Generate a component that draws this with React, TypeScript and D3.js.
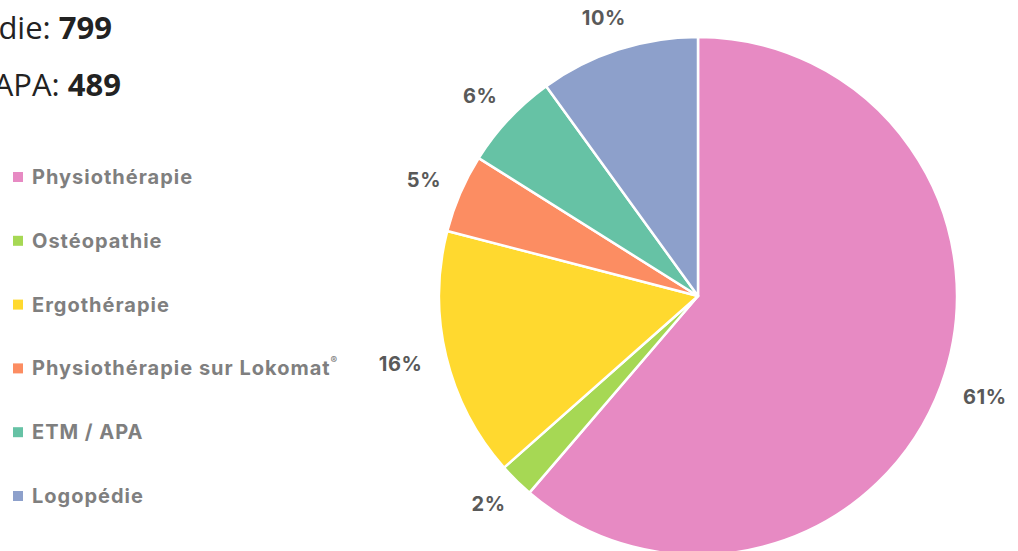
import React from "react";
import * as d3 from "d3";

const categories = [
  "Physiothérapie",
  "Ostéopathie",
  "Ergothérapie",
  "Physiothérapie sur Lokomat",
  "ETM / APA",
  "Logopédie",
];
const values = [4912, 176, 1248, 392, 489, 799];
const colors = ["#e78ac3", "#a6d854", "#ffd92f", "#fc8d62", "#66c2a5", "#8da0cb"];
const summaryLabels = ["Logopédie: ", "ETM / APA: "];
const summaryValues = ["799", "489"];

const W = 1018;
const H = 551;
const cx = 698;
const cy = 296;
const R = 259;
const labelR = 284;

export default function App() {
  const total = d3.sum(values);
  const pie = d3.pie<number>().sort(null).value((d) => d);
  const arcs = pie(values);
  const arcGen = d3.arc<d3.PieArcDatum<number>>().innerRadius(0).outerRadius(R);
  const fmt = (v: number) => `${Math.round((v / total) * 100)}%`;
  const legendY = d3.scalePoint<number>().domain(d3.range(categories.length)).range([177, 496]);

  return (
    <svg
      width={W}
      height={H}
      style={{ position: "absolute", left: 0, top: 0, background: "#fff" }}
    >
      <g fontFamily="'Open Sans', sans-serif" fontSize={31} fill="#222">
        {summaryLabels.map((l, i) => (
          <text key={i} x={i === 0 ? 112 : 121} y={39 + i * 57} textAnchor="end">
            {l}
            <tspan fontWeight="bold">{summaryValues[i]}</tspan>
          </text>
        ))}
      </g>
      <g transform={`translate(${cx},${cy})`}>
        {arcs.map((a, i) => (
          <path key={i} d={arcGen(a) || ""} fill={colors[i]} stroke="#fff" strokeWidth={2.5} strokeLinejoin="round" />
        ))}
        {arcs.map((a, i) => {
          const mid = (a.startAngle + a.endAngle) / 2;
          const s = Math.sin(mid);
          const c = Math.cos(mid);
          const txt = fmt(a.value);
          const w = txt.length * 14.5;
          const x = labelR * s + (s * w) / 2;
          const y = -labelR * c - c * 8;
          return (
            <text
              key={i}
              x={x}
              y={y}
              textAnchor="middle"
              dominantBaseline="central"
              fontFamily="Inter, sans-serif"
              fontWeight="bold"
              fontSize={20}
              letterSpacing={0.6}
              fill="#595959"
            >
              {txt}
            </text>
          );
        })}
      </g>
      <g fontFamily="Inter, sans-serif" fontWeight="bold" fontSize={20} letterSpacing={1} fill="#7f7f7f">
        {categories.map((c, i) => (
          <g key={i} transform={`translate(0,${legendY(i)})`}>
            <rect x={13} y={-5} width={10} height={10} fill={colors[i]} />
            <text x={32} y={0} dominantBaseline="central">
              {c}
              {i === 3 ? (
                <tspan fontSize={10} dy={-8}>®</tspan>
              ) : null}
            </text>
          </g>
        ))}
      </g>
    </svg>
  );
}
